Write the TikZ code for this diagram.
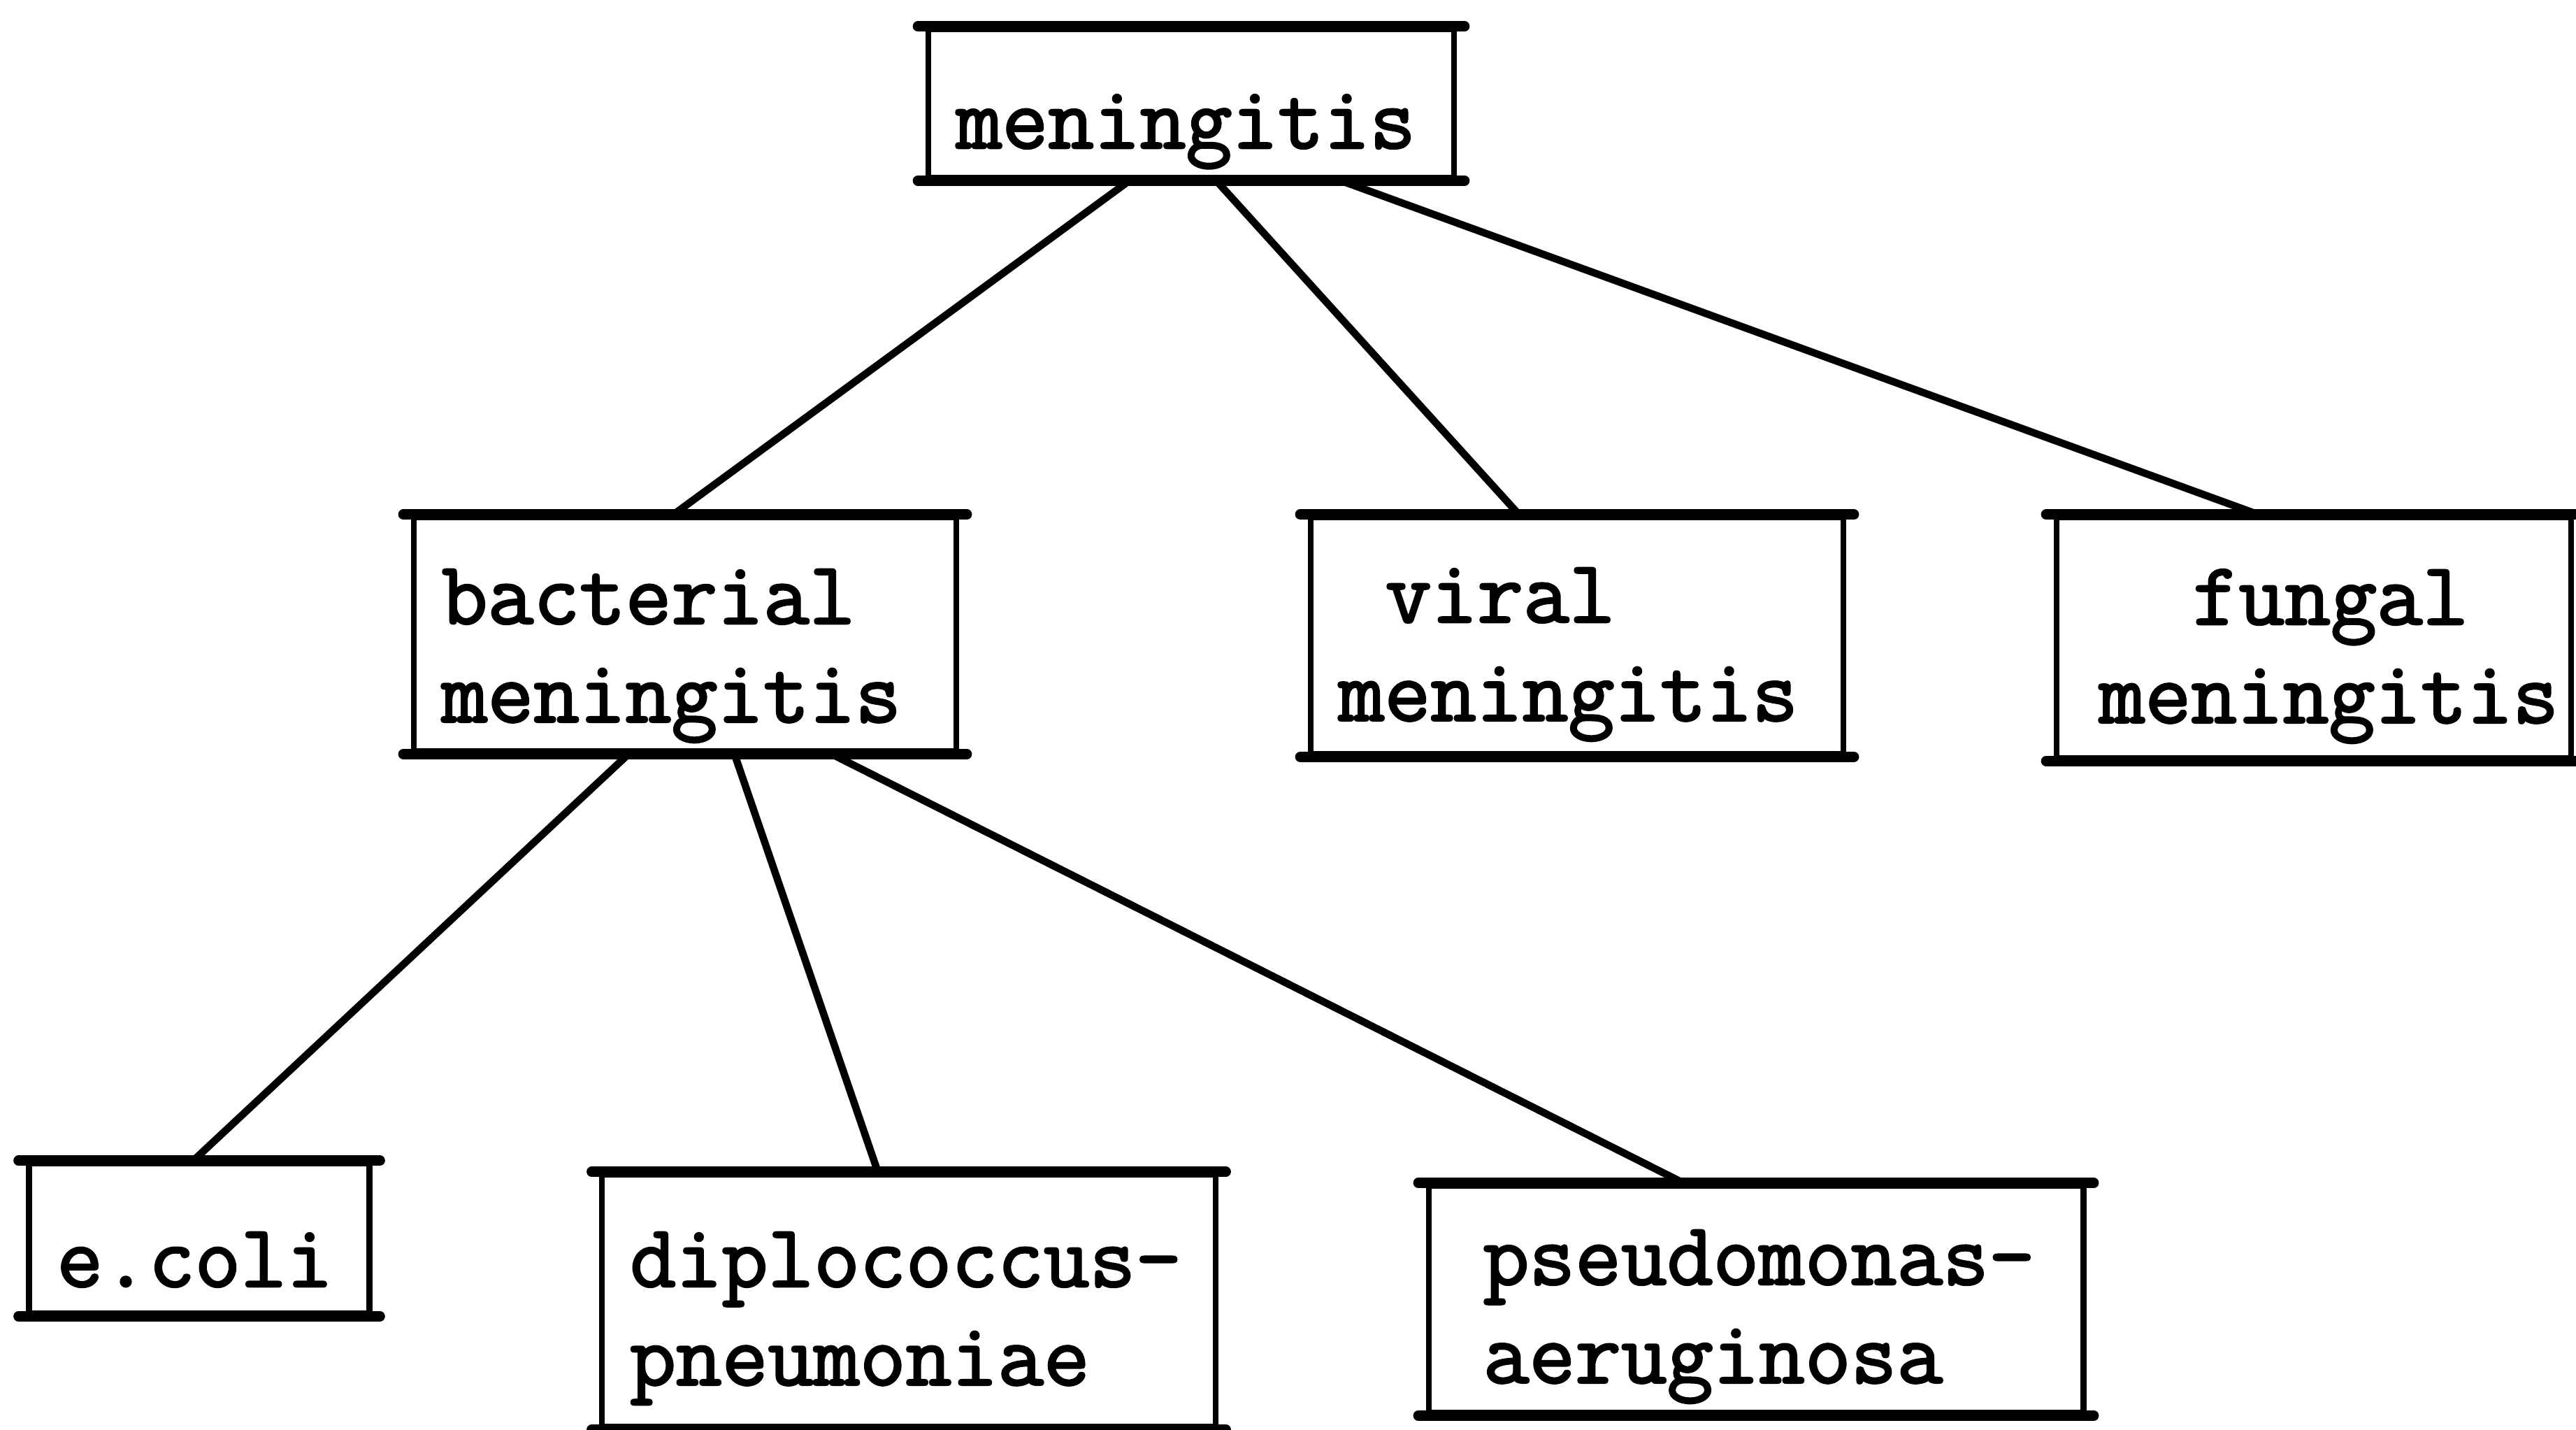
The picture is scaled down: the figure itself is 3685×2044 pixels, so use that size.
\documentclass[tikz,border=0pt]{standalone}
\usepackage{fontspec}
\newfontfamily\typewriter{Latin Modern Mono}[FakeBold=2.2]
\usetikzlibrary{calc}
\begin{document}
\begin{tikzpicture}[x=0.01cm, y=-0.01cm,
  box/.style={draw, line width=2.4pt, inner xsep=4mm, inner ysep=0pt, align=left,
    font=\fontsize{36.3}{40}\typewriter\bfseries},
  link/.style={line width=3pt, line cap=round},
  rule/.style={line width=4.2pt, line cap=round}]
\useasboundingbox (0,0) rectangle (3685,2044);

% tree nodes; text height = first baseline below the top edge
\node[box, text width=67.2mm, text height=17.0mm, text depth=4.2mm] (men) at (1704,148) {meningitis};
\node[box, text width=69.6mm, text height=15.2mm, text depth=18.2mm] (bact) at (980,907) {bacterial\\meningitis};
\node[box, text width=68.2mm, text height=15.0mm, text depth=18.8mm] (vir) at (2256,909) {\hspace*{0.525em}viral\\meningitis};
\node[box, inner xsep=0pt, text width=73.6mm, text height=15.3mm, text depth=19.1mm] (fun) at (3310,912) {\hspace*{6.1mm}\hspace*{1.05em}fungal\\\hspace*{6.1mm}meningitis};
\node[box, text width=40.7mm, text height=17.6mm, text depth=3.8mm] (ecoli) at (285,1771) {e.coli};
\node[box, text width=79.7mm, text height=16.0mm, text depth=20.0mm] (dip) at (1300,1860) {diplococcus-\\pneumoniae};
\node[box, text width=85.6mm, text height=14.1mm, text depth=18.3mm] (pse) at (2512,1858) {\hspace*{3.8mm}pseudomonas-\\\hspace*{3.8mm}aeruginosa};

% heavier top and bottom rules of each box
\foreach \n in {men,bact,vir,fun,ecoli,dip,pse}
  \draw[rule] ([xshift=-3pt]\n.north west) -- ([xshift=3pt]\n.north east)
              ([xshift=-3pt]\n.south west) -- ([xshift=3pt]\n.south east);

% connectors
\draw[link] ($(men.south west)!0.384!(men.south east)$) -- ($(bact.north west)!0.479!(bact.north east)$);
\draw[link] ($(men.south west)!0.547!(men.south east)$) -- ($(vir.north west)!0.392!(vir.north east)$);
\draw[link] ($(men.south west)!0.781!(men.south east)$) -- ($(fun.north west)!0.393!(fun.north east)$);
\draw[link] ($(bact.south west)!0.397!(bact.south east)$) -- ($(ecoli.north west)!0.483!(ecoli.north east)$);
\draw[link] ($(bact.south west)!0.590!(bact.south east)$) -- ($(dip.north west)!0.450!(dip.north east)$);
\draw[link] ($(bact.south west)!0.767!(bact.south east)$) -- ($(pse.north west)!0.390!(pse.north east)$);
\end{tikzpicture}
\end{document}
